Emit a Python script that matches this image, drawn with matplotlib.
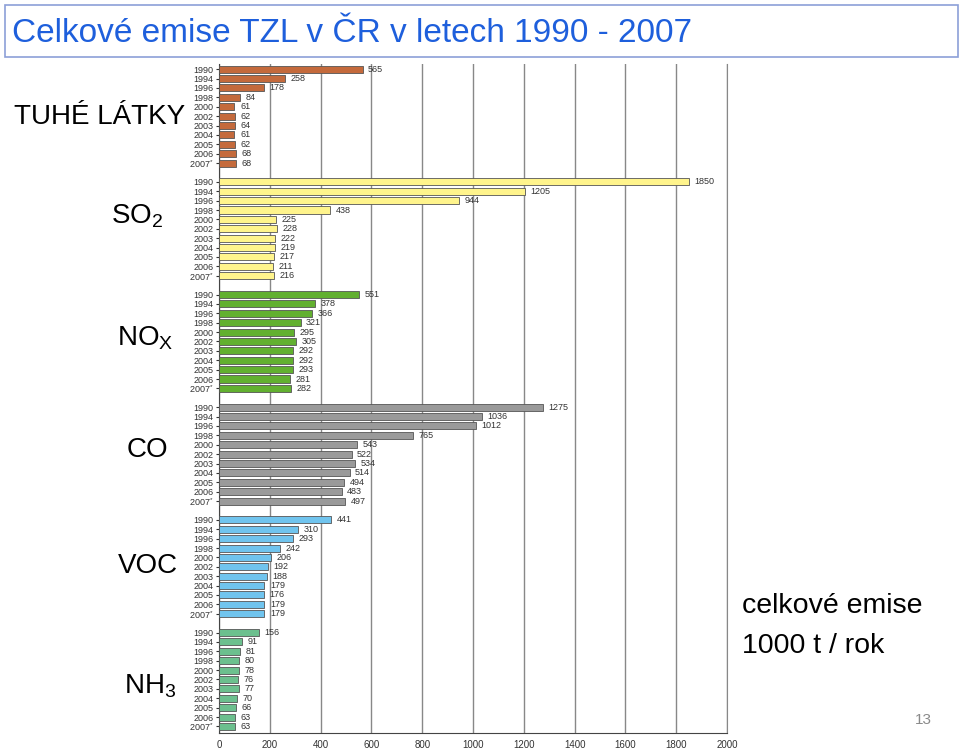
import numpy as np
import matplotlib
matplotlib.use("Agg")
import matplotlib.pyplot as plt
from matplotlib.patches import Rectangle

plt.rcParams['font.family'] = ['Liberation Sans', 'DejaVu Sans']
plt.rcParams['mathtext.default'] = 'regular'

years = ['1990', '1994', '1996', '1998', '2000', '2002', '2003', '2004', '2005', '2006', '2007$^{*}$']

tzl = [565, 258, 178, 84, 61, 62, 64, 61, 62, 68, 68]
so2 = [1850, 1205, 944, 438, 225, 228, 222, 219, 217, 211, 216]
nox = [551, 378, 366, 321, 295, 305, 292, 292, 293, 281, 282]
co = [1275, 1036, 1012, 765, 543, 522, 534, 514, 494, 483, 497]
voc = [441, 310, 293, 242, 206, 192, 188, 179, 176, 179, 179]
nh3 = [156, 91, 81, 80, 78, 76, 77, 70, 66, 63, 63]

groups = [tzl, so2, nox, co, voc, nh3]
group_names = ['TUHÉ LÁTKY', 'SO$_2$', 'NO$_X$', 'CO', 'VOC', 'NH$_3$']
colors = ['#C46A3C', '#FFF48C', '#62B030', '#9A9A9A', '#70C4EE', '#6CC08E']
label_x = [100, 137, 145, 147, 148, 150]
label_y = [117, 216, 338, 450, 566, 686]

fig = plt.figure(figsize=(9.6, 7.49), dpi=100)

# title box
fig.patches.append(Rectangle((5 / 960, 1 - 57 / 749), 953 / 960, 52 / 749,
                             transform=fig.transFigure, fill=False,
                             edgecolor='#8C9FD8', linewidth=1.2))
fig.text(12 / 960, 1 - 33 / 749, 'Celkové emise TZL v ČR v letech 1990 - 2007',
         fontsize=24, color='#1E5FDC', va='center', ha='left')

ax = fig.add_axes([219 / 960, 16 / 749, 508 / 960, 669 / 749])

ypos = []
ylabels = []
for g, vals in enumerate(groups):
    y = np.arange(len(vals)) + g * 12
    ax.barh(y, vals, height=0.75, color=colors[g], edgecolor='#555555',
            linewidth=0.6, zorder=3)
    for yy, v in zip(y, vals):
        ax.annotate(str(v), (v, yy), xytext=(4, 0), textcoords='offset points',
                    va='center', ha='left', fontsize=6.5, color='#333333')
    ypos.extend(y)
    ylabels.extend(years)
    # group label on the left
    fig.text(label_x[g] / 960, 1 - label_y[g] / 749, group_names[g],
             fontsize=20, ha='center', va='center', color='black')

ax.set_xlim(0, 2000)
ax.set_ylim(70.7, -0.55)
ax.set_xticks(np.arange(0, 2001, 200))
ax.set_yticks(ypos)
ax.set_yticklabels(ylabels)
ax.tick_params(axis='y', labelsize=6.5, length=2, pad=2, colors='#333333')
ax.tick_params(axis='x', labelsize=7, length=0, pad=5, colors='#333333')
ax.grid(axis='x', color='#888888', linewidth=1.0, zorder=0)
ax.set_axisbelow(True)
ax.spines['top'].set_visible(False)
ax.spines['right'].set_color('#888888')
ax.spines['left'].set_color('#444444')
ax.spines['bottom'].set_color('#444444')

fig.text(742 / 960, 1 - 606 / 749, 'celkové emise', fontsize=20.5, ha='left', va='center')
fig.text(742 / 960, 1 - 646 / 749, '1000 t / rok', fontsize=20.5, ha='left', va='center')
fig.text(932 / 960, 1 - 720 / 749, '13', fontsize=11, ha='right', va='center',
         color='#8A8A8A')

fig.savefig('out.png', dpi=100)
